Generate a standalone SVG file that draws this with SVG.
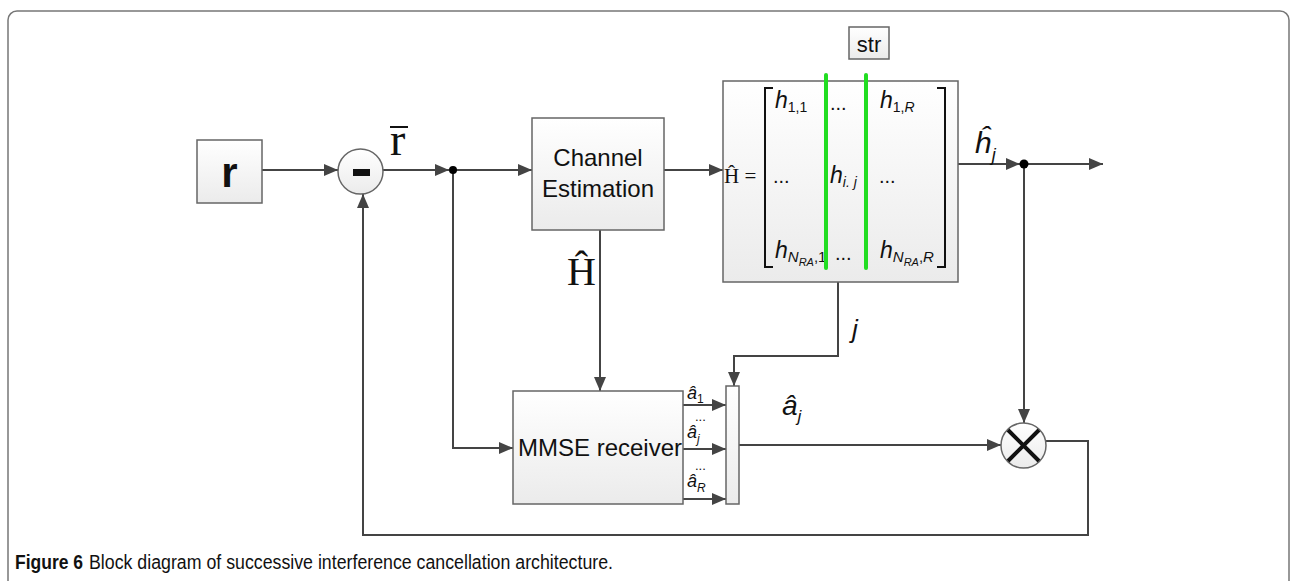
<svg xmlns="http://www.w3.org/2000/svg" width="1294" height="581" viewBox="0 0 1294 581">
<style>
.box{fill:url(#g);stroke:#666;stroke-width:1.5}
.ln{fill:none;stroke:#444;stroke-width:2}
.arr{marker-end:url(#ah)}
.sans{font-family:"Liberation Sans",Arial,sans-serif;fill:#111}
.it{font-family:"Liberation Sans",Arial,sans-serif;font-style:italic;fill:#111}
.up{font-style:normal}
.serif{font-family:"Liberation Serif","Times New Roman",serif;fill:#111}
.green{stroke:#22dd22;stroke-width:4;stroke-linecap:round}
</style>
<defs>
<linearGradient id="g" x1="0" y1="0" x2="0" y2="1">
<stop offset="0" stop-color="#ffffff"/>
<stop offset="1" stop-color="#ebebeb"/>
</linearGradient>
<marker id="ah" markerUnits="userSpaceOnUse" markerWidth="15" markerHeight="12" refX="14" refY="6" orient="auto">
<path d="M0,0 L14,6 L0,12 z" fill="#444"/>
</marker>
</defs>
<rect x="8" y="11" width="1281" height="620" rx="9" fill="none" stroke="#777" stroke-width="1.5"/>

<g id="connectors">
<path class="ln arr" d="M262,170 H338"/>
<path class="ln arr" d="M383,170 H449"/>
<path class="ln arr" d="M453,170 H532"/>
<path class="ln arr" d="M453,170 V448 H513"/>
<path class="ln arr" d="M664,170 H723"/>
<path class="ln arr" d="M600,230 V391"/>
<path class="ln arr" d="M958,164 H1020"/>
<path class="ln arr" d="M1024,164 H1103"/>
<path class="ln arr" d="M1024,164 V423"/>
<path class="ln arr" d="M838,282 V356 H734 V386"/>
<path class="ln arr" d="M683,405 H726"/>
<path class="ln arr" d="M683,449 H726"/>
<path class="ln arr" d="M683,499 H726"/>
<path class="ln arr" d="M739,445 H1001"/>
<path class="ln arr" d="M1046,441 H1088 V535 H363 V194"/>
<circle cx="453" cy="170" r="4" fill="#000"/>
<circle cx="1024" cy="164" r="4.5" fill="#000"/>
</g>

<g id="labels">
<text class="serif" x="390" y="155" font-size="46">r</text>
<line x1="390" y1="127" x2="408" y2="127" stroke="#111" stroke-width="2"/>
<text class="serif" x="567" y="285" font-size="40">Ĥ</text>
<text class="it" x="975" y="153" font-size="30">ĥ<tspan font-size="18" dy="8">j</tspan></text>
<text class="it" x="852" y="338" font-size="26">j</text>
<text class="it" x="782" y="415" font-size="28">â<tspan font-size="17" dy="7">j</tspan></text>
<text class="it" x="687" y="399" font-size="18">â<tspan class="up" font-size="12" dy="4">1</tspan></text>
<text class="sans" x="695" y="421" font-size="13">...</text>
<text class="it" x="687" y="438" font-size="18">â<tspan font-size="12" dy="5">j</tspan></text>
<text class="sans" x="695" y="470" font-size="13">...</text>
<text class="it" x="687" y="487" font-size="18">â<tspan font-size="12" dy="5">R</tspan></text>
</g>

<g id="node-r">
<rect class="box" x="197" y="140" width="65" height="63"/>
<text class="sans" x="229.5" y="187" font-size="42" font-weight="bold" text-anchor="middle">r</text>
</g>

<g id="node-minus">
<circle class="box" cx="360.5" cy="171.5" r="22.5"/>
<rect x="353" y="169" width="17" height="7" fill="#111"/>
</g>

<g id="node-channel-estimation">
<rect class="box" x="532" y="118" width="132" height="112"/>
<text class="sans" x="598" y="166" font-size="24" text-anchor="middle">Channel</text>
<text class="sans" x="598" y="197" font-size="24" text-anchor="middle">Estimation</text>
</g>

<g id="node-str">
<rect class="box" x="849" y="27" width="40" height="32"/>
<text class="sans" x="869" y="52" font-size="22" text-anchor="middle">str</text>
</g>

<g id="node-matrix">
<rect class="box" x="723" y="81" width="235" height="201"/>
<text class="serif" x="724" y="183" font-size="21">Ĥ =</text>
<path d="M773,88 H765 V267 H773" fill="none" stroke="#111" stroke-width="2"/>
<path d="M937,88 H945 V267 H937" fill="none" stroke="#111" stroke-width="2"/>
<text class="it" x="775" y="108" font-size="23">h<tspan class="up" font-size="14" dy="4">1,1</tspan></text>
<text class="sans" x="830" y="110" font-size="20">...</text>
<text class="it" x="880" y="108" font-size="23">h<tspan class="up" font-size="14" dy="4">1,</tspan><tspan font-size="14">R</tspan></text>
<text class="sans" x="773" y="183" font-size="20">...</text>
<text class="it" x="830" y="183" font-size="23">h<tspan font-size="14" dy="4">i. j</tspan></text>
<text class="sans" x="879" y="183" font-size="20">...</text>
<text class="it" x="775" y="258" font-size="23">h<tspan font-size="15" dy="4">N</tspan><tspan font-size="11" dy="4">RA</tspan><tspan class="up" font-size="15" dy="-4">,1</tspan></text>
<text class="sans" x="835" y="260" font-size="20">...</text>
<text class="it" x="880" y="258" font-size="23">h<tspan font-size="15" dy="4">N</tspan><tspan font-size="11" dy="4">RA</tspan><tspan class="up" font-size="15" dy="-4">,</tspan><tspan font-size="15">R</tspan></text>
<line class="green" x1="826" y1="75" x2="826" y2="268"/>
<line class="green" x1="866" y1="75" x2="866" y2="268"/>
</g>

<g id="node-mmse">
<rect class="box" x="513" y="391" width="170" height="113"/>
<text class="sans" x="600" y="456" font-size="24" text-anchor="middle">MMSE receiver</text>
</g>

<g id="node-selector">
<rect class="box" x="726" y="386" width="13" height="118"/>
</g>

<g id="node-multiply">
<circle class="box" cx="1023.5" cy="445.5" r="22.5"/>
<path d="M1008,430 L1039,461 M1039,430 L1008,461" stroke="#111" stroke-width="4"/>
</g>

<text class="sans" x="15" y="569" font-size="20" font-weight="bold" textLength="68" lengthAdjust="spacingAndGlyphs">Figure 6</text>
<text class="sans" x="89" y="569" font-size="20" textLength="524" lengthAdjust="spacingAndGlyphs">Block diagram of successive interference cancellation architecture.</text>
</svg>
